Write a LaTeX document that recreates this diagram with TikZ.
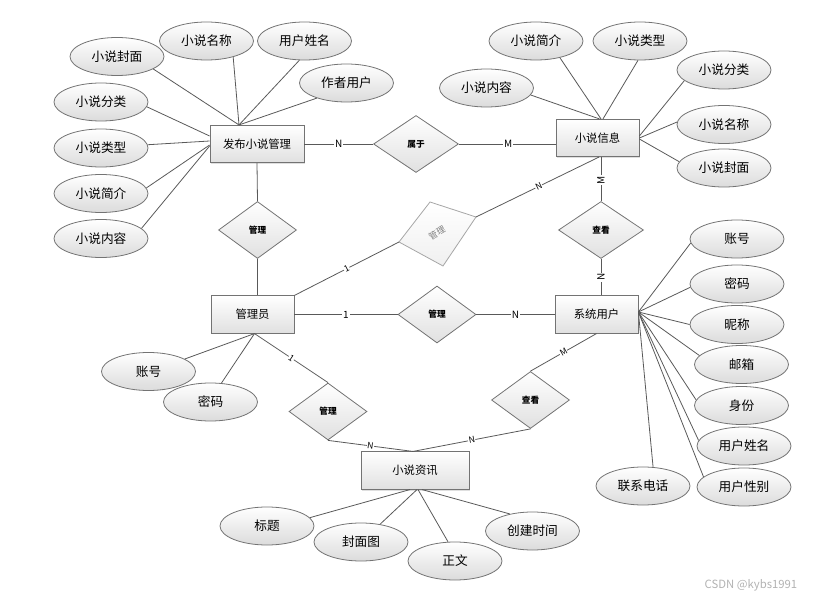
\documentclass[tikz,border=0pt]{standalone}
\usepackage{fontspec}
\setmainfont{Noto Sans CJK SC}
\usetikzlibrary{shapes.geometric,shadows,calc}
\begin{document}
\begin{tikzpicture}[x=0.75pt,y=-0.75pt,
  ent/.style={rectangle, draw=black!55, line width=0.6pt, top color=white, bottom color=black!12,
    inner sep=0pt, minimum height=28pt, font=\fontsize{8.5}{10}\selectfont,
    drop shadow={shadow xshift=1pt,shadow yshift=-1pt,opacity=0.25}},
  rel/.style={diamond, draw=black!55, line width=0.6pt, top color=white, bottom color=black!12,
    inner sep=0pt, minimum width=58.5pt, minimum height=42.75pt, font=\fontsize{6.5}{8}\selectfont\bfseries},
  attr/.style={ellipse, draw=black!55, line width=0.6pt, top color=white, bottom color=black!14,
    inner sep=0pt, minimum width=70.5pt, minimum height=28.5pt, font=\fontsize{9.5}{11}\selectfont},
  ln/.style={draw=black!65, line width=0.6pt},
  lab/.style={fill=white, inner sep=0.6pt, font=\fontsize{7.5}{8}\selectfont},
  slab/.style={fill=white, inner sep=0.4pt, sloped, font=\fontsize{6.5}{7}\selectfont},
]
\useasboundingbox (0,0) rectangle (829,602);

% entities
\node[ent, minimum width=70.5pt] (pub) at (257,144) {发布小说管理};
\node[ent, minimum width=62.25pt] (info) at (597.5,138) {小说信息};
\node[ent, minimum width=62.25pt] (admin) at (252.5,314.5) {管理员};
\node[ent, minimum width=62.25pt] (user) at (596.5,314.5) {系统用户};
\node[ent, minimum width=81pt] (news) at (415,470.5) {小说资讯};

% relationships
\node[rel, minimum width=63.75pt] (d1) at (416,144) {属于};
\node[rel] (d2) at (257.5,230) {管理};
\node[rel, minimum width=63.75pt] (d4) at (601,230) {查看};
\node[rel] (d5) at (437,314.5) {管理};
\node[rel] (d6) at (328,411.5) {管理};
\node[rel] (d7) at (530.5,400) {查看};

% grey skewed relationship
\coordinate (gT) at (430,202);
\coordinate (gR) at (476,217);
\coordinate (gB) at (443,266);
\coordinate (gL) at (399,242);
\path[draw=black!35, line width=0.6pt, top color=white, bottom color=black!6] (gT) -- (gR) -- (gB) -- (gL) -- cycle;
\node[rotate=30, text=black!50, inner sep=0pt, font=\fontsize{6.5}{8}\selectfont] (gtext) at (437,233) {管理};

% attributes of 发布小说管理
\node[attr] (a1) at (117,56.5) {小说封面};
\node[attr] (a2) at (206.5,41) {小说名称};
\node[attr] (a3) at (304.5,41) {用户姓名};
\node[attr] (a4) at (346.5,83) {作者用户};
\node[attr] (a5) at (101,102) {小说分类};
\node[attr] (a6) at (101,148) {小说类型};
\node[attr] (a7) at (101,193.5) {小说简介};
\node[attr] (a8) at (101,238.5) {小说内容};

% attributes of 小说信息
\node[attr] (b1) at (536,41) {小说简介};
\node[attr] (b2) at (640,41) {小说类型};
\node[attr] (b3) at (486.5,88) {小说内容};
\node[attr] (b4) at (724,70) {小说分类};
\node[attr] (b5) at (724,124.5) {小说名称};
\node[attr] (b6) at (724,168) {小说封面};

% attributes of 系统用户
\node[attr] (c1) at (737,239) {账号};
\node[attr] (c2) at (737,284) {密码};
\node[attr] (c3) at (737,324.5) {昵称};
\node[attr] (c4) at (741.5,364.5) {邮箱};
\node[attr] (c5) at (741.5,405.5) {身份};
\node[attr] (c6) at (744,446) {用户姓名};
\node[attr] (c7) at (744,487) {用户性别};
\node[attr] (c8) at (643,486) {联系电话};

% attributes of 管理员
\node[attr] (e1) at (148.5,371.5) {账号};
\node[attr] (e2) at (210.5,402) {密码};

% attributes of 小说资讯
\node[attr] (f1) at (267,526) {标题};
\node[attr] (f2) at (361,542) {封面图};
\node[attr] (f3) at (455,561) {正文};
\node[attr] (f4) at (532.5,531) {创建时间};

% attribute connectors
\coordinate (pubT) at ($(pub.north)+(-18,0)$);
\coordinate (pubL) at ($(pub.west)+(0,-3)$);
\draw[ln] (a1.-19) -- (pubT);
\draw[ln] (a2.-31) -- (pubT);
\draw[ln] (a3.-105) -- (pubT);
\draw[ln] (a4.-153) -- (pubT);
\draw[ln] (a5.-6) -- ($(pub.west)+(0,-8)$);
\draw[ln] (a6.4) -- (pubL);
\draw[ln] (a7.7) -- ($(pub.west)+(0,1)$);
\draw[ln] (a8.14) -- ($(pub.west)+(0,2)$);

\coordinate (infoT) at ($(info.north)+(3.5,0)$);
\draw[ln] (b3.-9) -- ($(info.north)+(2,0)$);
\draw[ln] (b1.-35) -- (infoT);
\draw[ln] (b2.-96) -- ($(info.north)+(5.5,0)$);
\draw[ln] (b4.-165) -- ($(info.east)+(0,-2)$);
\draw[ln] (b5.177) -- (info.east);
\draw[ln] (b6.172) -- ($(info.east)+(0,1)$);

\coordinate (userR) at ($(user.east)+(0,-2.5)$);
\draw[ln] (c1.-175) -- (userR);
\draw[ln] (c2.-176) -- (userR);
\draw[ln] (c3.180) -- (userR);
\draw[ln] (c4.168) -- (userR);
\draw[ln] (c5.173) -- (userR);
\draw[ln] (c6.173) -- (userR);
\draw[ln] (c7.166) -- (userR);
\draw[ln] (c8.62) -- (userR);

\coordinate (adminB) at ($(admin.south)+(2,0)$);
\draw[ln] (e1.19) -- (adminB);
\draw[ln] (e2.60) -- (adminB);

\draw[ln] (f1.11) -- ($(news.south)+(-5,0)$);
\draw[ln] (f2.43) -- ($(news.south)+(2,0)$);
\draw[ln] (f3.110) -- ($(news.south)+(3,0)$);
\draw[ln] (f4.143) -- ($(news.south)+(7,0)$);

% relationship connectors
\draw[ln] (pub.east) -- node[lab, pos=0.5] {N} (d1.west);
\draw[ln] (d1.east) -- node[lab, pos=0.51] {M} (info.west |- d1.east);
\draw[ln] (pub.south) -- (d2.north);
\draw[ln] (d2.south) -- (d2.south |- admin.north);
\draw[ln] (admin.north east) -- node[slab, pos=0.5] {1} (gL);
\draw[ln] (gR) -- node[slab, pos=0.51] {N} ($(info.south)+(1.5,0)$);
\draw[ln] (d4.north |- info.south) -- node[lab, rotate=90, pos=0.52] {M} (d4.north);
\draw[ln] (d4.south) -- node[lab, rotate=90, pos=0.5] {N} (d4.south |- user.north);
\draw[ln] (admin.east) -- node[lab, pos=0.5] {1} (d5.west);
\draw[ln] (d5.east) -- node[lab, pos=0.5] {N} (user.west);
\coordinate (newsT) at ($(news.north)+(-2,0)$);
\draw[ln] (adminB) -- node[slab, pos=0.5] {1} (d6.north);
\draw[ln] (d6.south) -- node[slab, pos=0.5] {N} (newsT);
\draw[ln] (user.south) -- node[slab, pos=0.5] {M} (d7.north);
\draw[ln] (d7.south) -- node[slab, pos=0.5] {N} (newsT);

% watermark
\node[text=black!30, font=\fontsize{8.5}{10}\selectfont] (wm) at (751,585) {CSDN @kybs1991};
\end{tikzpicture}
\end{document}
